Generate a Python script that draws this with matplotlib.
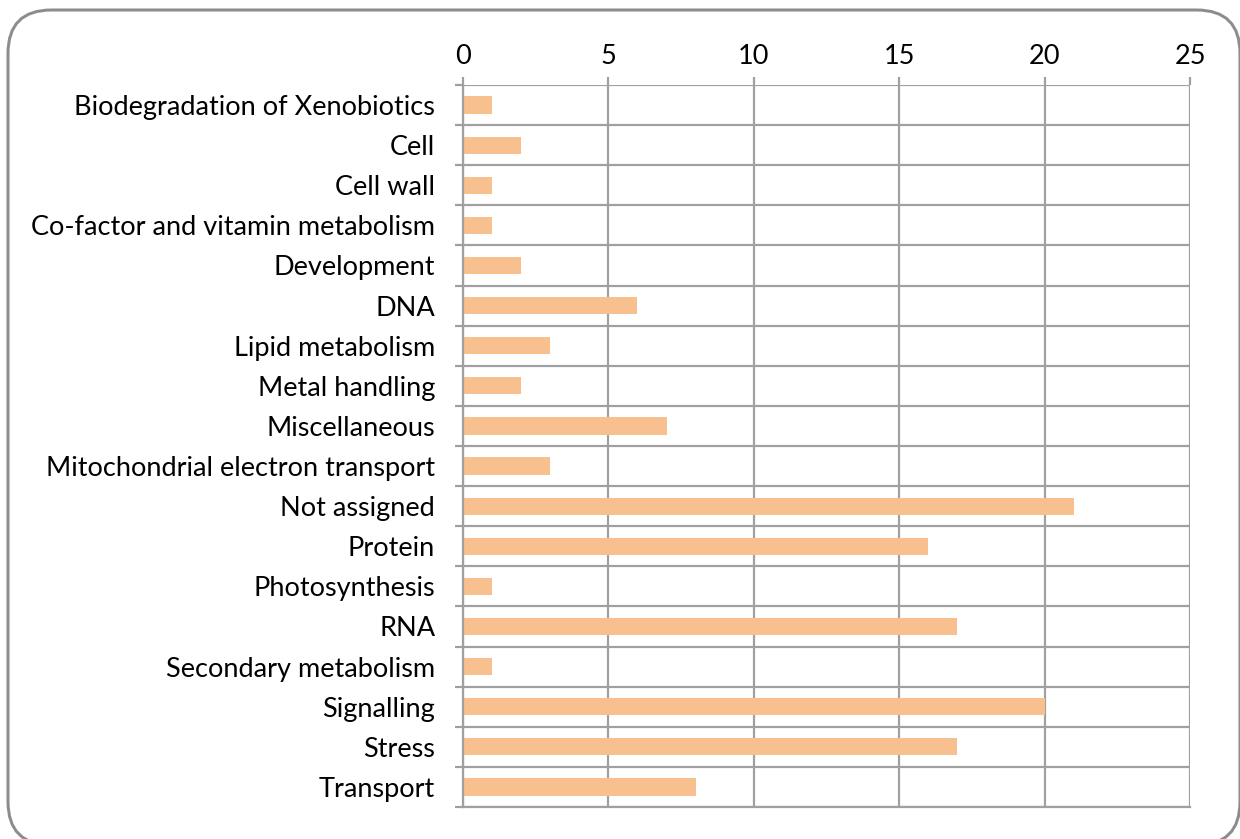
import matplotlib
matplotlib.use("Agg")
import matplotlib.pyplot as plt
from matplotlib.patches import FancyBboxPatch
import numpy as np

categories = [
    "Biodegradation of Xenobiotics",
    "Cell",
    "Cell wall",
    "Co-factor and vitamin metabolism",
    "Development",
    "DNA",
    "Lipid metabolism",
    "Metal handling",
    "Miscellaneous",
    "Mitochondrial electron transport",
    "Not assigned",
    "Protein",
    "Photosynthesis",
    "RNA",
    "Secondary metabolism",
    "Signalling",
    "Stress",
    "Transport",
]
counts = [1, 2, 1, 1, 2, 6, 3, 2, 7, 3, 21, 16, 1, 17, 1, 20, 17, 8]
x_ticks = [0, 5, 10, 15, 20, 25]

W, H, DPI = 1240, 839, 100
PX = 72 / DPI  # points per pixel
grid_col = "#A0A0A0"
bar_col = "#F9C08F"
font = "Lato"

fig = plt.figure(figsize=(W / DPI, H / DPI), dpi=DPI)
fig.patch.set_facecolor("white")

# rounded frame around the whole chart
frame = FancyBboxPatch((8 / W, -6 / H), (1240 - 8) / W, (839 - 10 + 6) / H,
                       boxstyle="round,pad=0,rounding_size=0.035",
                       transform=fig.transFigure, fill=False,
                       edgecolor="#8C8C8C", linewidth=3 * PX,
                       mutation_aspect=W / H, clip_on=False)
fig.patches.append(frame)

left, right, top, bottom = 463, 1190, 85, 807
ax = fig.add_axes([left / W, 1 - bottom / H, (right - left) / W, (bottom - top) / H])

y = np.arange(len(categories))
ax.barh(y, counts, height=0.43, color=bar_col, zorder=3)

ax.set_xlim(0, 25)
ax.set_ylim(len(categories) - 0.5, -0.5)

# x axis on top with vertical gridlines
ax.xaxis.tick_top()
ax.set_xticks(x_ticks)
ax.set_xticklabels([str(t) for t in x_ticks], fontsize=19.5, family=font)
ax.tick_params(axis="x", length=8 * PX, width=2.2 * PX, color=grid_col, pad=6)
ax.grid(axis="x", color=grid_col, linewidth=2.2 * PX, zorder=1)

# category boundaries as major ticks/grid, labels on minor ticks
ax.set_yticks(np.arange(-0.5, len(categories) + 0.5, 1.0))
ax.set_yticklabels([])
ax.tick_params(axis="y", which="major", length=8 * PX, width=2.2 * PX, color=grid_col)
ax.set_yticks(y, minor=True)
ax.set_yticklabels(categories, minor=True, fontsize=19.5, family=font)
ax.tick_params(axis="y", which="minor", length=0, pad=20)
ax.grid(axis="y", which="major", color=grid_col, linewidth=2.2 * PX, zorder=1)

for side, sp in ax.spines.items():
    if side in ("left", "bottom"):
        sp.set_color(grid_col)
        sp.set_linewidth(2.2 * PX)
        sp.set_zorder(4)
    else:
        sp.set_visible(False)

ax.set_axisbelow(True)

fig.savefig("out.png", dpi=DPI)
